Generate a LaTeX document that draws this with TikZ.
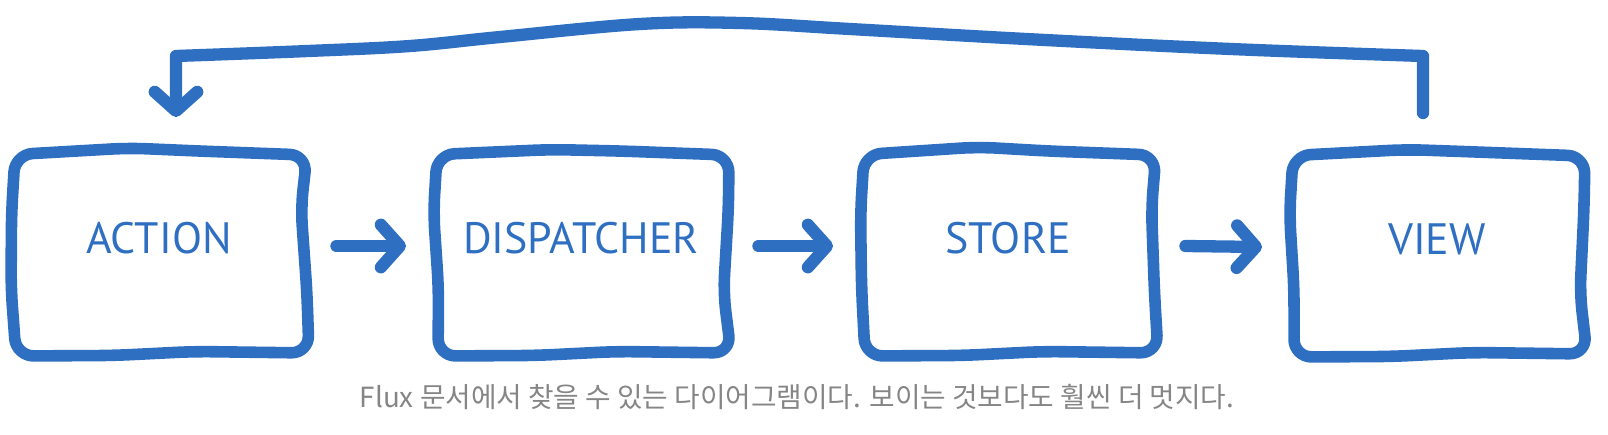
\documentclass[tikz,border=0pt]{standalone}
\usepackage{fontspec}
\setmainfont{PT Sans}
\newfontfamily\krfont{Noto Sans CJK KR}
\usetikzlibrary{arrows.meta}
\definecolor{fluxblue}{HTML}{2E6FC2}
\definecolor{captiongray}{HTML}{858585}

\begin{document}
\begin{tikzpicture}[x=0.02cm, y=0.02cm, >={Straight Barb[length=0.38cm, width=0.85cm, round]},
		box/.style={outer sep=0pt, minimum width=5.8cm, minimum height=4.04cm, text depth=0.6cm, text=fluxblue,
				font=\fontsize{25}{30}\selectfont},
		outline/.style={draw=fluxblue, line width=6.6pt, line join=round, rounded corners=0.35cm},
		flow/.style={->, draw=fluxblue, line width=7pt, line cap=round, line join=round}]
	\useasboundingbox (0,0) rectangle (1608,434);

	% --- De vier stappen ---
	\node[box] (action) at (159,181) {ACTION};
	\node[box] (dispatcher) at (581,181) {DISPATCHER};
	\node[box] (store) at (1008,181) {STORE};
	\node[box] (view) at (1437,180) {VIEW};

	% Handgetekende randen (naam / wiebel boven / wiebel rechts)
	\foreach \n/\a/\b in {action/0.08/-0.06, dispatcher/0.05/0.05, store/0.1/-0.03, view/0.07/0.04} {
			\draw[outline] ([shift={(0.02cm,-0.05cm)}]\n.north west) -- ([shift={(-0.6cm,\a cm)}]\n.north)
			-- ([shift={(0.8cm,0.02cm)}]\n.north) -- ([shift={(0.06cm,-0.06cm)}]\n.north east)
			-- ([shift={(\b cm,0.9cm)}]\n.east) -- ([shift={(-\b cm,-0.8cm)}]\n.east)
			-- ([shift={(0.1cm,0.02cm)}]\n.south east) -- ([shift={(0.7cm,0.05cm)}]\n.south)
			-- ([shift={(-0.9cm,-0.03cm)}]\n.south) -- ([shift={(0.04cm,-0.04cm)}]\n.south west)
			-- ([shift={(\b cm,-0.7cm)}]\n.west) -- ([shift={(-0.05cm,0.8cm)}]\n.west) -- cycle;
		}

	% --- Pijlen tussen de stappen ---
	\draw[flow] ([xshift=0.65cm, yshift=0.14cm]action.east) -- ([xshift=-0.6cm, yshift=0.14cm]dispatcher.west);
	\draw[flow] ([xshift=0.65cm, yshift=0.14cm]dispatcher.east) -- ([xshift=-0.6cm, yshift=0.14cm]store.west);
	\draw[flow] ([xshift=0.65cm, yshift=0.14cm]store.east) -- ([xshift=-0.6cm, yshift=0.14cm]view.west);

	% --- Terugkoppeling van VIEW naar ACTION ---
	\coordinate (fbstart) at ([xshift=-0.28cm, yshift=0.8cm]view.north);
	\coordinate (fbend) at ([xshift=0.34cm, yshift=0.7cm]action.north);
	\draw[flow] (fbstart) -- plot[smooth, tension=0.6] coordinates {(1423,378) (1231,385) (1026,395) (850,405) (740,411) (640,410) (500,397) (410,388) (308,383) (176,378)} -- (fbend);

	% Onderschrift
	\node[font=\krfont\fontsize{15.8}{19}\selectfont, text=captiongray] (caption) at (797,37) {Flux 문서에서 찾을 수 있는 다이어그램이다. 보이는 것보다도 훨씬 더 멋지다.};
\end{tikzpicture}
\end{document}
